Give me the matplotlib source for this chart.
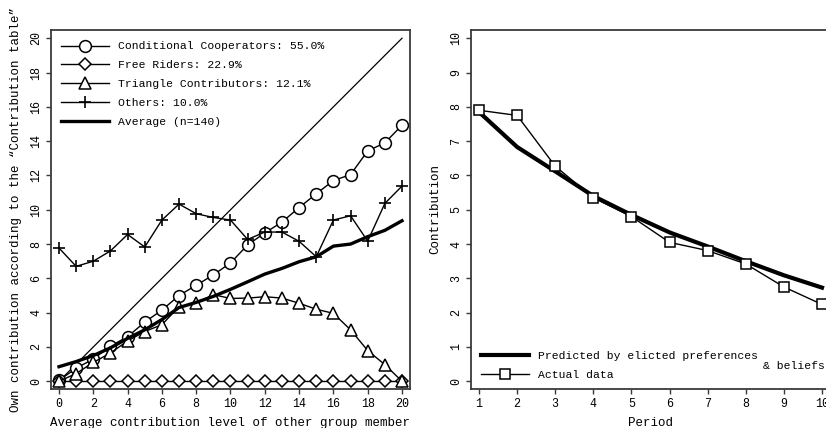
import numpy as np
import matplotlib
matplotlib.use('Agg')
from matplotlib import pyplot as plt

# --- data ---

others_level = list(range(21))
cond_coop = [0.05, 0.76, 1.3, 2.05, 2.6, 3.45, 4.15, 5.0, 5.6, 6.2, 6.9, 7.95,
             8.65, 9.28, 10.13, 10.93, 11.7, 12.05, 13.43, 13.9, 14.93]
free_riders = [0.0] * 21
triangle = [0.0, 0.45, 1.1, 1.65, 2.35, 2.9, 3.3, 4.35, 4.55, 5.05, 4.83, 4.85,
            4.93, 4.85, 4.55, 4.2, 3.96, 3.0, 1.79, 0.97, 0.0]
others = [7.77, 6.7, 7.0, 7.6, 8.56, 7.83, 9.4, 10.33, 9.77, 9.55, 9.4, 8.27,
          8.7, 8.7, 8.16, 7.26, 9.4, 9.65, 8.17, 10.37, 11.38]
average = [0.85, 1.15, 1.5, 1.95, 2.5, 3.0, 3.6, 4.3, 4.6, 4.95, 5.36, 5.8,
           6.25, 6.58, 6.97, 7.26, 7.88, 8.0, 8.43, 8.8, 9.36]

labels_left = ['Conditional Cooperators: 55.0%', 'Free Riders: 22.9%',
               'Triangle Contributors: 12.1%', 'Others: 10.0%', 'Average (n=140)']

periods = list(range(1, 11))
predicted = [7.85, 6.83, 6.12, 5.4, 4.85, 4.34, 3.93, 3.5, 3.09, 2.73]
actual = [7.9, 7.75, 6.27, 5.35, 4.8, 4.05, 3.81, 3.42, 2.75, 2.24]

# --- style ---

FONT = 'Liberation Mono'
plt.rcParams['font.family'] = [FONT, 'DejaVu Sans']
SPINE = '#3a3a3a'
W = 826
H = 428


def frame(ax):
    for s in ax.spines.values():
        s.set_color(SPINE)
        s.set_linewidth(1.3)
    ax.tick_params(direction='out', length=3.5, width=1.0, color=SPINE,
                   labelsize=8.4, pad=3)
    for lab in ax.get_yticklabels():
        lab.set_rotation(90)
        lab.set_va('center')


fig = plt.figure(figsize=(W / 100, H / 100), dpi=100)

# left panel
ax1 = fig.add_axes([51 / W, 39 / H, 359 / W, 359 / H])
mk = dict(markerfacecolor='white', markeredgecolor='black', markeredgewidth=1.1)
ax1.plot([0, 20], [0, 20], color='black', lw=0.9)
ax1.plot(others_level, cond_coop, color='black', lw=1.0, marker='o', ms=8.5,
         label=labels_left[0], **mk)
ax1.plot(others_level, free_riders, color='black', lw=1.0, marker='D', ms=6.5,
         label=labels_left[1], **mk)
ax1.plot(others_level, triangle, color='black', lw=1.0, marker='^', ms=8.5,
         label=labels_left[2], **mk)
ax1.plot(others_level, others, color='black', lw=1.0, marker='+', ms=9,
         markeredgewidth=1.2, label=labels_left[3])
ax1.plot(others_level, average, color='black', lw=2.4, label=labels_left[4])
ax1.set_xlim(-0.466, 20.466)
ax1.set_ylim(-0.45, 20.48)
ax1.set_xticks(range(0, 21, 2))
ax1.set_yticks(range(0, 21, 2))
frame(ax1)
ax1.set_xlabel('Average contribution level of other group member', fontsize=9, labelpad=5)
ax1.set_ylabel('Own contribution according to the \u201cContribution table\u201d',
               fontsize=9, labelpad=6)
ax1.legend(loc='upper left', bbox_to_anchor=(0.028, 0.968), frameon=False,
           fontsize=8.2, borderpad=0, borderaxespad=0, handlelength=4.2,
           handletextpad=0.8, labelspacing=0.77)

# right panel
ax2 = fig.add_axes([471 / W, 39 / H, 359 / W, 359 / H])
ax2.plot(periods, predicted, color='black', lw=3.0,
         label='Predicted by elicted preferences')
ax2.plot(periods, actual, color='black', lw=1.0, marker='s', ms=7.5,
         label='Actual data', **mk)
ax2.set_xlim(0.79, 10.21)
ax2.set_ylim(-0.225, 10.24)
ax2.set_xticks(periods)
ax2.set_yticks(range(0, 11))
frame(ax2)
ax2.set_xlabel('Period', fontsize=9, labelpad=5)
ax2.set_ylabel('Contribution', fontsize=9, labelpad=6)
ax2.legend(loc='upper left', bbox_to_anchor=(0.028, 0.105), frameon=False,
           fontsize=8.2, borderpad=0, borderaxespad=0, handlelength=4.2,
           handletextpad=0.8, labelspacing=0.72)
ax2.text(0.813, 0.065, '& beliefs', transform=ax2.transAxes, fontsize=8.2,
         ha='left', va='center')

plt.savefig('out.png', dpi=100)
